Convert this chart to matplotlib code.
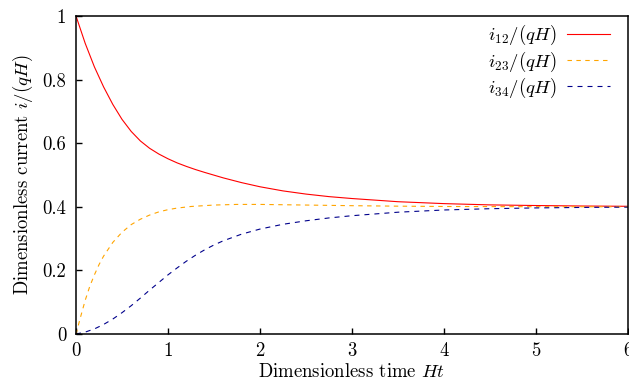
import matplotlib
matplotlib.use("Agg")
import matplotlib.pyplot as plt

# Data
t_red = [0.0, 0.1, 0.2, 0.3, 0.4, 0.5, 0.6, 0.7, 0.8, 0.9, 1.0, 1.1, 1.2, 1.3,
         1.4, 1.6, 1.8, 2.0, 2.25, 2.5, 2.75, 3.0, 3.5, 4.0, 4.5, 5.0, 5.5, 6.0]
i12 = [1.0, 0.914, 0.840, 0.777, 0.722, 0.675, 0.637, 0.607, 0.584, 0.566,
       0.551, 0.538, 0.527, 0.517, 0.508, 0.491, 0.476, 0.463, 0.450, 0.440,
       0.432, 0.426, 0.416, 0.410, 0.406, 0.404, 0.4025, 0.4016]

t_orange = [0.0, 0.05, 0.1, 0.15, 0.2, 0.25, 0.3, 0.4, 0.5, 0.6, 0.7, 0.8, 0.9,
            1.0, 1.1, 1.25, 1.5, 1.75, 2.0, 2.5, 3.0, 3.5, 4.0, 5.0, 6.0]
i23 = [0.0, 0.054, 0.106, 0.150, 0.186, 0.218, 0.245, 0.288, 0.320, 0.344,
       0.361, 0.374, 0.384, 0.391, 0.396, 0.401, 0.4055, 0.4075, 0.4075, 0.4055,
       0.4035, 0.402, 0.401, 0.4003, 0.400]

t_blue = [0.0, 0.1, 0.2, 0.3, 0.4, 0.5, 0.6, 0.7, 0.8, 0.9, 1.0, 1.1, 1.2, 1.3,
          1.4, 1.5, 1.6, 1.8, 2.0, 2.25, 2.5, 2.75, 3.0, 3.5, 4.0, 4.5, 5.0,
          5.5, 6.0]
i34 = [0.0, 0.006, 0.016, 0.030, 0.047, 0.067, 0.089, 0.113, 0.138, 0.162,
       0.186, 0.208, 0.229, 0.248, 0.265, 0.280, 0.293, 0.314, 0.330, 0.345,
       0.356, 0.365, 0.372, 0.383, 0.390, 0.394, 0.3965, 0.398, 0.399]

labels = [r"$i_{12}/(qH)$", r"$i_{23}/(qH)$", r"$i_{34}/(qH)$"]
xticks = [0, 1, 2, 3, 4, 5, 6]
xticklabels = ["0", "1", "2", "3", "4", "5", "6"]
yticks = [0, 0.2, 0.4, 0.6, 0.8, 1.0]
yticklabels = ["0", "0.2", "0.4", "0.6", "0.8", "1"]

plt.rcParams["font.family"] = "serif"
plt.rcParams["font.serif"] = ["cmr10"]
plt.rcParams["mathtext.fontset"] = "cm"
plt.rcParams["axes.formatter.use_mathtext"] = True

FS = 13.5

fig = plt.figure(figsize=(6.29, 3.86), dpi=100)
ax = fig.add_axes([76 / 629, 52 / 386, 552 / 629, 318 / 386])

ax.plot(t_red, i12, color="#ff0000", lw=0.8, label=labels[0])
ax.plot(t_orange, i23, color="#ffa500", lw=0.8, dashes=(4, 4), label=labels[1])
ax.plot(t_blue, i34, color="#00008b", lw=0.8, dashes=(4.5, 4.5), label=labels[2])

ax.set_xlim(0, 6)
ax.set_ylim(0, 1)
ax.set_xticks(xticks)
ax.set_xticklabels(xticklabels)
ax.set_yticks(yticks)
ax.set_yticklabels(yticklabels)
ax.tick_params(direction="in", length=4.5, width=1.0, labelsize=FS,
               top=False, right=False)
ax.tick_params(axis="x", pad=6)
ax.tick_params(axis="y", pad=7)
for s in ax.spines.values():
    s.set_linewidth(1.1)

ax.set_xlabel("Dimensionless time $Ht$", fontsize=FS, labelpad=2)
ax.set_ylabel("Dimensionless current $i/(qH)$", fontsize=FS, labelpad=5)

leg = ax.legend(loc="upper right", bbox_to_anchor=(0.968, 0.978), frameon=False,
                markerfirst=False, fontsize=FS, handlelength=2.3,
                handletextpad=0.55, labelspacing=0.12, borderaxespad=0,
                borderpad=0.0)

fig.savefig("out.png", dpi=100)
